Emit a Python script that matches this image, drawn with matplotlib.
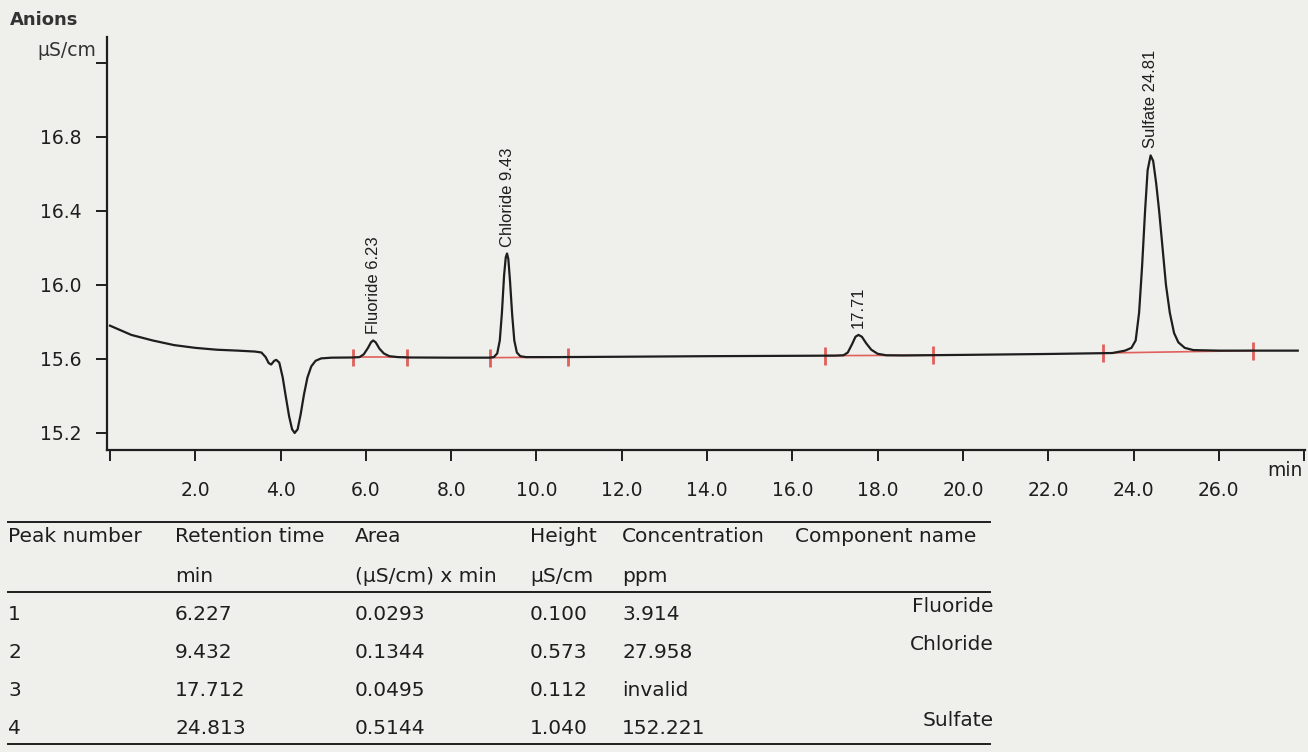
import matplotlib
matplotlib.use("Agg")
import matplotlib.pyplot as plt
import numpy as np

# chromatogram trace (time in min, conductivity in uS/cm)
trace_time = [0.0, 0.5, 1.0, 1.5, 2.0, 2.5, 3.0, 3.4, 3.55, 3.65, 3.72, 3.78, 3.85, 3.9,
              3.97, 4.05, 4.12, 4.2, 4.27, 4.33, 4.4, 4.47, 4.55, 4.63, 4.72, 4.82, 4.95,
              5.2, 5.7, 5.85, 5.95, 6.05, 6.12, 6.17, 6.23, 6.32, 6.42, 6.55, 6.75, 7.0,
              8.0, 8.9, 9.0, 9.08, 9.14, 9.19, 9.24, 9.28, 9.31, 9.34, 9.38, 9.43, 9.48,
              9.54, 9.62, 9.75, 10.5, 12.0, 14.0, 16.0, 17.0, 17.2, 17.3, 17.4, 17.48,
              17.55, 17.63, 17.73, 17.85, 18.0, 18.2, 18.6, 20.0, 22.0, 23.5, 23.8, 23.95,
              24.05, 24.13, 24.2, 24.27, 24.33, 24.4, 24.46, 24.53, 24.6, 24.68, 24.76,
              24.85, 24.95, 25.05, 25.2, 25.4, 26.0, 27.0, 27.85]
trace_value = [15.78, 15.73, 15.70, 15.675, 15.66, 15.65, 15.645, 15.64, 15.635, 15.61,
               15.578, 15.57, 15.59, 15.595, 15.58, 15.50, 15.40, 15.29, 15.22, 15.20,
               15.22, 15.30, 15.41, 15.50, 15.56, 15.59, 15.603, 15.607, 15.608, 15.61,
               15.625, 15.66, 15.69, 15.70, 15.69, 15.655, 15.63, 15.615, 15.61, 15.608,
               15.607, 15.607, 15.61, 15.63, 15.70, 15.85, 16.05, 16.15, 16.17, 16.14,
               16.02, 15.84, 15.70, 15.635, 15.615, 15.61, 15.61, 15.612, 15.615, 15.617,
               15.618, 15.62, 15.635, 15.68, 15.72, 15.73, 15.72, 15.685, 15.65, 15.628,
               15.62, 15.619, 15.622, 15.627, 15.632, 15.645, 15.66, 15.70, 15.85, 16.10,
               16.40, 16.62, 16.70, 16.67, 16.55, 16.40, 16.20, 16.00, 15.85, 15.74, 15.69,
               15.66, 15.648, 15.645, 15.645, 15.645]

# integration baselines (start/end of each peak window)
window_start = [5.70, 8.92, 16.76, 23.29]
window_end = [6.97, 10.75, 19.30, 26.80]
window_start_value = [15.608, 15.607, 15.618, 15.632]
window_end_value = [15.608, 15.610, 15.620, 15.645]

# peak annotations
peak_label_time = [6.17, 9.31, 17.55, 24.40]
peak_label_text = ["Fluoride 6.23", "Chloride 9.43", "17.71", "Sulfate 24.81"]

y_ticks = [15.2, 15.6, 16.0, 16.4, 16.8, 17.2]
y_tick_labels = ["15.2", "15.6", "16.0", "16.4", "16.8", ""]
x_ticks = [0.0, 2.0, 4.0, 6.0, 8.0, 10.0, 12.0, 14.0, 16.0, 18.0, 20.0, 22.0, 24.0, 26.0, 28.0]
x_tick_labels = ["", "2.0", "4.0", "6.0", "8.0", "10.0", "12.0", "14.0", "16.0", "18.0",
                 "20.0", "22.0", "24.0", "26.0", ""]

# results table
table_header_1 = ["Peak number", "Retention time", "Area", "Height", "Concentration", "Component name"]
table_header_2 = ["", "min", "(\u00b5S/cm) x min", "\u00b5S/cm", "ppm", ""]
peak_number = ["1", "2", "3", "4"]
retention_time = ["6.227", "9.432", "17.712", "24.813"]
area = ["0.0293", "0.1344", "0.0495", "0.5144"]
height = ["0.100", "0.573", "0.112", "1.040"]
concentration = ["3.914", "27.958", "invalid", "152.221"]
component_name = ["Fluoride", "Chloride", "", "Sulfate"]

W, H = 1308, 752
BG = "#efefec"
INK = "#1e1e1e"
RED = "#e0605a"


def fx(px):
    return px / W


def fy(py):
    return 1 - py / H


fig = plt.figure(figsize=(W / 100, H / 100), dpi=100, facecolor=BG)
ax = fig.add_axes([fx(107), fy(450), fx(1305) - fx(107), fy(37) - fy(450)])
ax.set_facecolor(BG)

ax.plot(trace_time, trace_value, color=INK, lw=1.6, zorder=3)

# red integration baselines with end markers
for t0, t1, v0, v1 in zip(window_start, window_end, window_start_value, window_end_value):
    ax.plot([t0, t1], [v0, v1], color=RED, lw=1.2, zorder=2)
    ax.vlines([t0, t1], [v0 - 0.048, v1 - 0.048], [v0 + 0.048, v1 + 0.048],
              color=RED, lw=2.0, zorder=2)

for t, txt in zip(peak_label_time, peak_label_text):
    apex = np.interp(t, trace_time, trace_value)
    ax.annotate(txt, (t, apex), xytext=(0, 5), textcoords="offset points",
                rotation=90, ha="center", va="bottom", fontsize=12,
                family="Liberation Sans", color=INK)

ax.set_xlim(-0.07, 28.02)
ax.set_ylim(15.108, 17.34)
ax.set_xticks(x_ticks)
ax.set_xticklabels(x_tick_labels)
ax.set_yticks(y_ticks)
ax.set_yticklabels(y_tick_labels)
ax.tick_params(axis="both", direction="out", length=8, width=1.4, colors=INK,
               labelsize=13.5)
ax.tick_params(axis="x", pad=14)
ax.tick_params(axis="y", pad=10)
for side in ["top", "right"]:
    ax.spines[side].set_visible(False)
for side in ["left", "bottom"]:
    ax.spines[side].set_linewidth(1.6)
    ax.spines[side].set_color(INK)

fig.text(fx(10), fy(20), "Anions", fontsize=13, fontweight="bold", color="#333333",
         va="center", ha="left")
fig.text(fx(96), fy(51), "\u00b5S/cm", fontsize=13.5, color="#333333", va="center", ha="right")
fig.text(fx(1285), fy(470), "min", fontsize=13.5, color=INK, va="center", ha="center")

# table
col_x = [8, 175, 355, 530, 622, 795]
tsize = 14.5
fig.add_artist(plt.Line2D([fx(8), fx(990)], [fy(522), fy(522)], color=INK, lw=1.4))
fig.add_artist(plt.Line2D([fx(8), fx(990)], [fy(592), fy(592)], color=INK, lw=1.4))
fig.add_artist(plt.Line2D([fx(8), fx(990)], [fy(744), fy(744)], color=INK, lw=1.4))
for x, h1, h2 in zip(col_x, table_header_1, table_header_2):
    fig.text(fx(x), fy(537), h1, fontsize=tsize, color=INK, va="center", ha="left")
    if h2:
        fig.text(fx(x), fy(576), h2, fontsize=tsize, color=INK, va="center", ha="left")

row_y = [614, 652, 690, 728]
for i, ry in enumerate(row_y):
    cells = [peak_number[i], retention_time[i], area[i], height[i], concentration[i]]
    for x, c in zip(col_x, cells):
        fig.text(fx(x), fy(ry), c, fontsize=tsize, color=INK, va="center", ha="left")
    if component_name[i]:
        fig.text(fx(994), fy(ry - 7), component_name[i], fontsize=tsize, color=INK,
                 va="center", ha="right")

fig.savefig("out.png", dpi=100, facecolor=BG)
